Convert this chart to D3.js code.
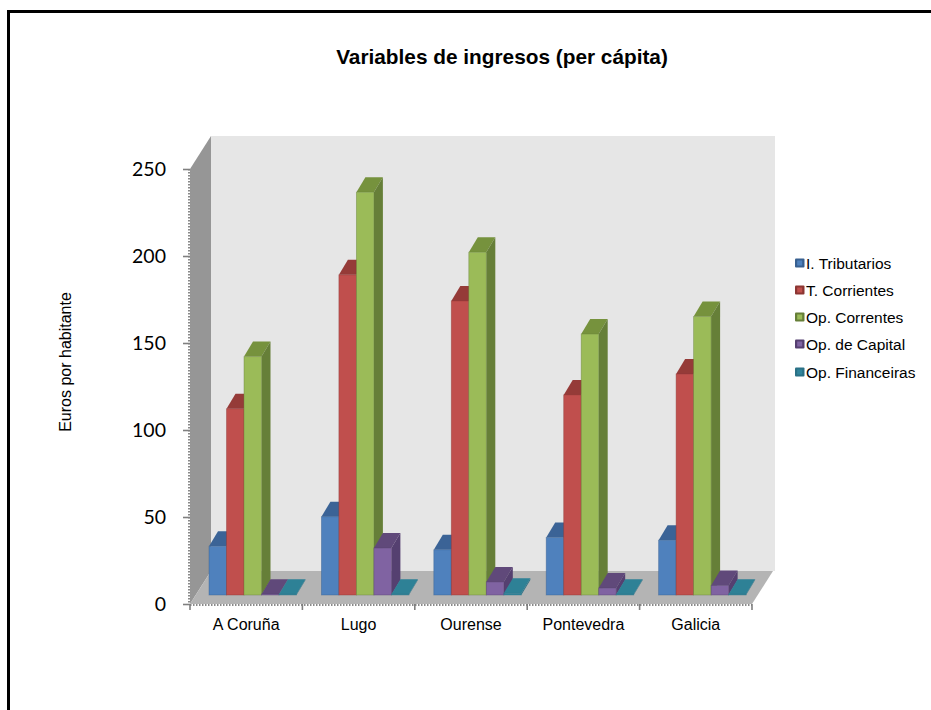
<!DOCTYPE html>
<html><head><meta charset="utf-8">
<script src="https://cdnjs.cloudflare.com/ajax/libs/d3/7.8.5/d3.min.js"></script>
<style>html,body{margin:0;padding:0;background:#fff}svg{display:block}</style>
</head><body><svg id="c" width="931" height="710"></svg>
<script>
const categories = ["A Coruña","Lugo","Ourense","Pontevedra","Galicia"];
const seriesNames = ["I. Tributarios","T. Corrientes","Op. Correntes","Op. de Capital","Op. Financeiras"];
const tributarios = [28,45,26,33,31.5];
const corrientes = [107,184,169,115,127];
const correntes = [137,231.5,197,150,160];
const capital = [0.5,27,7.5,4,5.5];
const financeiras = [0.5,0.5,1,0.5,0.5];
const allSeries = [tributarios,corrientes,correntes,capital,financeiras];
const yTicks = [0,50,100,150,200,250];
const frontColors = ["#4f81bd","#c0504d","#9bbb59","#8064a2","#31859c"];
const topColors = ["#3b6496","#953a38","#76923c","#60497a","#2f8196"];
const sideColors = ["#386090","#8c3633","#667f38","#553f70","#2a7186"];

const svg = d3.select("#c");
const W=931,H=710;
const x = d3.scaleBand().domain(categories).range([190,752]);
const y = d3.scaleLinear().domain([0,250]).range([604,169]);
const wallDx=21, wallDy=-33, barDx=9, barDy=-15, baseShift=-9, barW=17.5, barInset=19;
const poly=p=>p.map(d=>d.join(",")).join(" ");
const sans="'Liberation Sans', Arial, sans-serif";

const defs=svg.append("defs");
defs.append("filter").attr("id","soft").attr("x","-5%").attr("y","-5%").attr("width","110%").attr("height","110%")
  .append("feGaussianBlur").attr("stdDeviation",0.5);

// frame
svg.append("path").attr("d",`M8.5,${H} V11.5 H${W}`).attr("fill","none").attr("stroke","#000").attr("stroke-width",3);

const plot=svg.append("g").attr("filter","url(#soft)");
const x0=x.range()[0],x1=x.range()[1],y0=y(0),yT=y(250);
plot.append("polygon").attr("points",poly([[x0+wallDx,yT+wallDy],[x1+wallDx+2,yT+wallDy],[x1+wallDx+2,y0+wallDy],[x0+wallDx,y0+wallDy]])).attr("fill","#e6e6e6");
plot.append("polygon").attr("points",poly([[x0,yT],[x0+wallDx,yT+wallDy],[x0+wallDx,y0+wallDy],[x0,y0]])).attr("fill","#969696");
plot.append("polygon").attr("points",poly([[x0,y0],[x0+wallDx,y0+wallDy],[x1+wallDx,y0+wallDy],[x1,y0]])).attr("fill","#b4b4b4");

// minor tick texture along the front edges
plot.append("line").attr("x1",x0-1).attr("x2",x0-1).attr("y1",yT).attr("y2",y0).attr("stroke","#8a8a8a").attr("stroke-width",2).attr("stroke-dasharray","1.5 1.5");
plot.append("line").attr("x1",x0).attr("x2",x1).attr("y1",y0+1).attr("y2",y0+1).attr("stroke","#8a8a8a").attr("stroke-width",2).attr("stroke-dasharray","1.5 1.5");

// bars
categories.forEach((c,gi)=>{
  const g=plot.append("g");
  allSeries.forEach((vals,si)=>{
    const v=vals[gi];
    const bx=x(c)+barInset+si*barW, bw=barW;
    const ty=y(v)+baseShift, by=y(0)+baseShift;
    g.append("polygon").attr("points",poly([[bx,ty],[bx+barDx,ty+barDy],[bx+bw+barDx,ty+barDy],[bx+bw,ty]])).attr("fill",topColors[si]);
    g.append("polygon").attr("points",poly([[bx+bw,ty],[bx+bw+barDx,ty+barDy],[bx+bw+barDx,by+barDy],[bx+bw,by]])).attr("fill",sideColors[si]);
    g.append("rect").attr("x",bx).attr("y",ty).attr("width",bw).attr("height",by-ty).attr("fill",frontColors[si])
      .attr("stroke",sideColors[si]).attr("stroke-opacity",0.5).attr("stroke-width",0.8);
  });
});

// axes
const yAxis=svg.append("g").attr("transform",`translate(${x0},0)`)
  .call(d3.axisLeft(y).tickValues(yTicks).tickSize(7).tickPadding(16).tickFormat(d3.format("d")));
yAxis.select(".domain").remove();
yAxis.selectAll("line").attr("stroke","#7f7f7f").attr("stroke-width",1.6);
yAxis.selectAll("text").attr("font-family","Lato, sans-serif").attr("font-size",19.5).attr("fill","#000").attr("dx",-1);

const xAxis=svg.append("g").attr("transform",`translate(0,${y0})`)
  .call(d3.axisBottom(x).tickSize(0).tickPadding(15));
xAxis.select(".domain").remove();
xAxis.selectAll("line").remove();
xAxis.selectAll("text").attr("font-family",sans).attr("font-size",16).attr("fill","#000");
svg.append("g").selectAll("line").data(d3.range(categories.length+1)).join("line")
  .attr("x1",i=>x0+i*x.step()).attr("x2",i=>x0+i*x.step()).attr("y1",y0).attr("y2",y0+6)
  .attr("stroke","#7f7f7f").attr("stroke-width",1.6);

// title
svg.append("text").attr("x",502).attr("y",64).attr("text-anchor","middle")
  .attr("font-family",sans).attr("font-weight","bold").attr("font-size",20.8).text("Variables de ingresos (per cápita)");
svg.append("text").attr("transform","translate(71,362) rotate(-90)").attr("text-anchor","middle")
  .attr("font-family",sans).attr("font-size",16).text("Euros por habitante");

// legend
const legendY=[263,290,317,344,372];
const lg=svg.append("g").selectAll("g").data(seriesNames).join("g").attr("transform",(d,i)=>`translate(795,${legendY[i]})`);
lg.append("rect").attr("x",0).attr("y",-4.5).attr("width",9.5).attr("height",9).attr("rx",1).attr("fill",(d,i)=>sideColors[i]);
lg.append("rect").attr("x",2.2).attr("y",-2.5).attr("width",5).attr("height",5).attr("fill",(d,i)=>frontColors[i]);
lg.append("text").attr("x",11).attr("y",5.5).attr("font-family",sans).attr("font-size",15.5).text(d=>d);
</script></body></html>
